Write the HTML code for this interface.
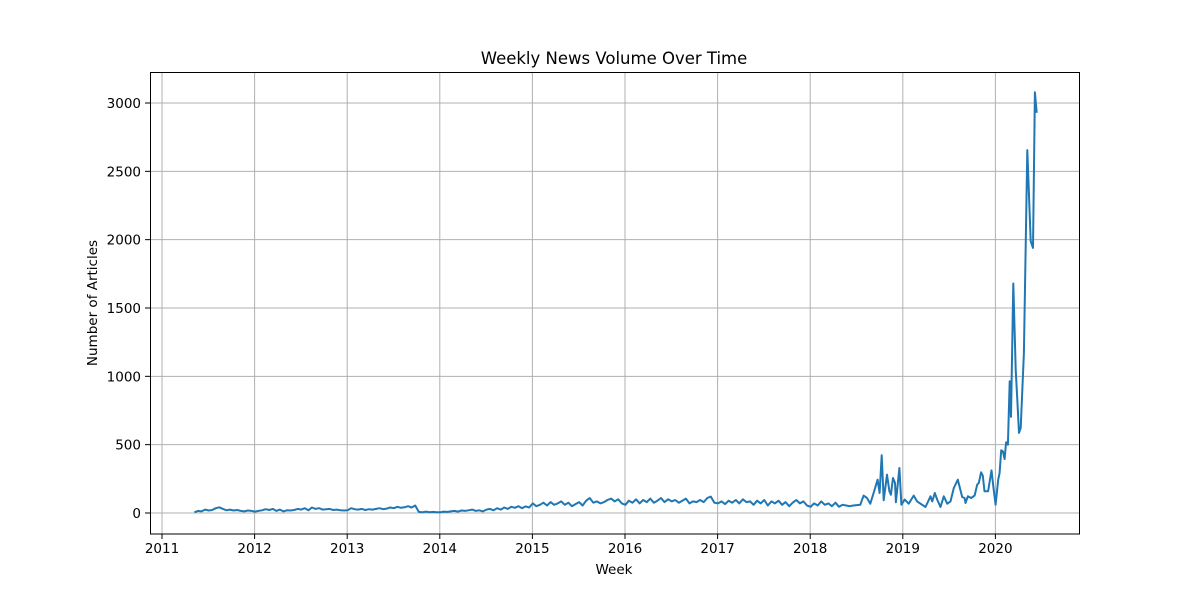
<!DOCTYPE html>
<html><head><meta charset="utf-8"><style>
body{margin:0;background:#fff;font-family:"Liberation Sans","DejaVu Sans",sans-serif}
svg text{font-family:"DejaVu Sans","Liberation Sans",sans-serif}
</style></head><body>
<svg id="chart" width="1200" height="600" xmlns="http://www.w3.org/2000/svg">
<rect width="1200" height="600" fill="#fff"/>
<g id="grid"></g><g id="ticks"></g>
<path id="line" fill="none" stroke="#1f77b4" stroke-width="2" stroke-linejoin="round"/>
<rect x="150.5" y="72.5" width="929" height="461.5" fill="none" stroke="#000" stroke-width="1"/>
<text x="614" y="64" font-size="16.5" text-anchor="middle">Weekly News Volume Over Time</text>
<text x="614" y="574" font-size="13.5" text-anchor="middle">Week</text>
<text x="97" y="303" font-size="13.5" text-anchor="middle" transform="rotate(-90 97 303)">Number of Articles</text>
</svg>
<script>
const xTickLabels=[2011,2012,2013,2014,2015,2016,2017,2018,2019,2020];
const yTickLabels=[0,500,1000,1500,2000,2500,3000];
const flatStart=2011.35;
const flatValues=[5,15,12,25,18,22,35,42,30,20,25,18,22,15,12,18,15,
10,15,20,28,22,30,15,25,12,20,18,22,30,25,35,20,40,30,35,25,28,30,22,25,20,18,
20,35,28,25,30,22,28,25,30,35,28,32,40,35,45,38,42,50,40,55,8,5,10,6,8,5,
5,10,8,12,15,10,18,15,20,25,15,20,12,25,30,20,35,25,40,30,45,38,50,35,48,40,
70,50,60,75,55,80,60,70,85,60,75,50,65,80,55,90,110,75,85,70,80,95,105,85,100,70,
60,90,75,100,70,95,80,105,75,90,110,80,100,85,95,75,90,105,70,85,80,95,80,110,120,75,
70,85,65,90,75,95,70,100,80,85,60,90,70,95,55,85,70,90,60,80,50,75,95,70,85,55,
45,70,55,85,60,70,50,75,45,60,55,50,55];
const tailYears=[2018.541,2018.577,2018.613,2018.649,2018.685,2018.728,2018.750,2018.772,2018.794,2018.829,2018.855,2018.872,2018.894,2018.916,2018.926,2018.963,2018.985,2019.021,2019.064,2019.118,2019.154,2019.245,2019.299,2019.317,2019.346,2019.371,2019.407,2019.443,2019.479,2019.515,2019.551,2019.594,2019.641,2019.667,2019.677,2019.703,2019.739,2019.775,2019.803,2019.821,2019.846,2019.864,2019.882,2019.921,2019.958,2019.980,2020.002,2020.030,2020.045,2020.063,2020.081,2020.099,2020.116,2020.135,2020.154,2020.168,2020.193,2020.219,2020.236,2020.255,2020.273,2020.308,2020.344,2020.381,2020.406,2020.427,2020.446];
const tailValues=[61,127,110,68,146,244,146,422,93,281,159,134,256,220,78,329,61,98,68,127,85,44,122,85,146,98,44,122,68,85,183,244,117,110,73,122,110,127,207,220,298,273,159,159,312,183,61,244,293,459,451,395,517,500,964,703,1679,1049,830,586,622,1171,2655,1989,1940,3079,2928];

const X=y=>162+(y-2011)*92.6;
const Y=v=>513-v*0.13667;
const NS='http://www.w3.org/2000/svg';
const grid=document.getElementById('grid'),ticks=document.getElementById('ticks');
function mk(tag,attrs,parent){const e=document.createElementNS(NS,tag);for(const k in attrs)e.setAttribute(k,attrs[k]);parent.appendChild(e);return e;}
xTickLabels.forEach(t=>{const x=X(t);
 const g=mk('line',{x1:x,x2:x,y1:72,y2:534,stroke:'#b0b0b0','stroke-width':1},grid);
 
 
 mk('line',{x1:x,x2:x,y1:534,y2:539,stroke:'#000'},ticks);
 const tx=mk('text',{x:x,y:553,'font-size':13.5,'text-anchor':'middle'},ticks);tx.textContent=t;
 
 
});
yTickLabels.forEach(t=>{const y=Y(t);
 const g=mk('line',{x1:150,x2:1080,y1:y,y2:y,stroke:'#b0b0b0','stroke-width':1},grid);
 
 
 mk('line',{x1:145,x2:150,y1:y,y2:y,stroke:'#000'},ticks);
 const tx=mk('text',{x:141,y:y+5,'font-size':13.5,'text-anchor':'end'},ticks);tx.textContent=t;
 
 
});
const pts=[];
flatValues.forEach((v,i)=>pts.push([X(flatStart+i/26),Y(v)]));
tailValues.forEach((v,i)=>pts.push([X(tailYears[i]),Y(v)]));
document.getElementById('line').setAttribute('d','M'+pts.map(p=>p[0].toFixed(1)+','+p[1].toFixed(1)).join('L'));
</script>
</body></html>
